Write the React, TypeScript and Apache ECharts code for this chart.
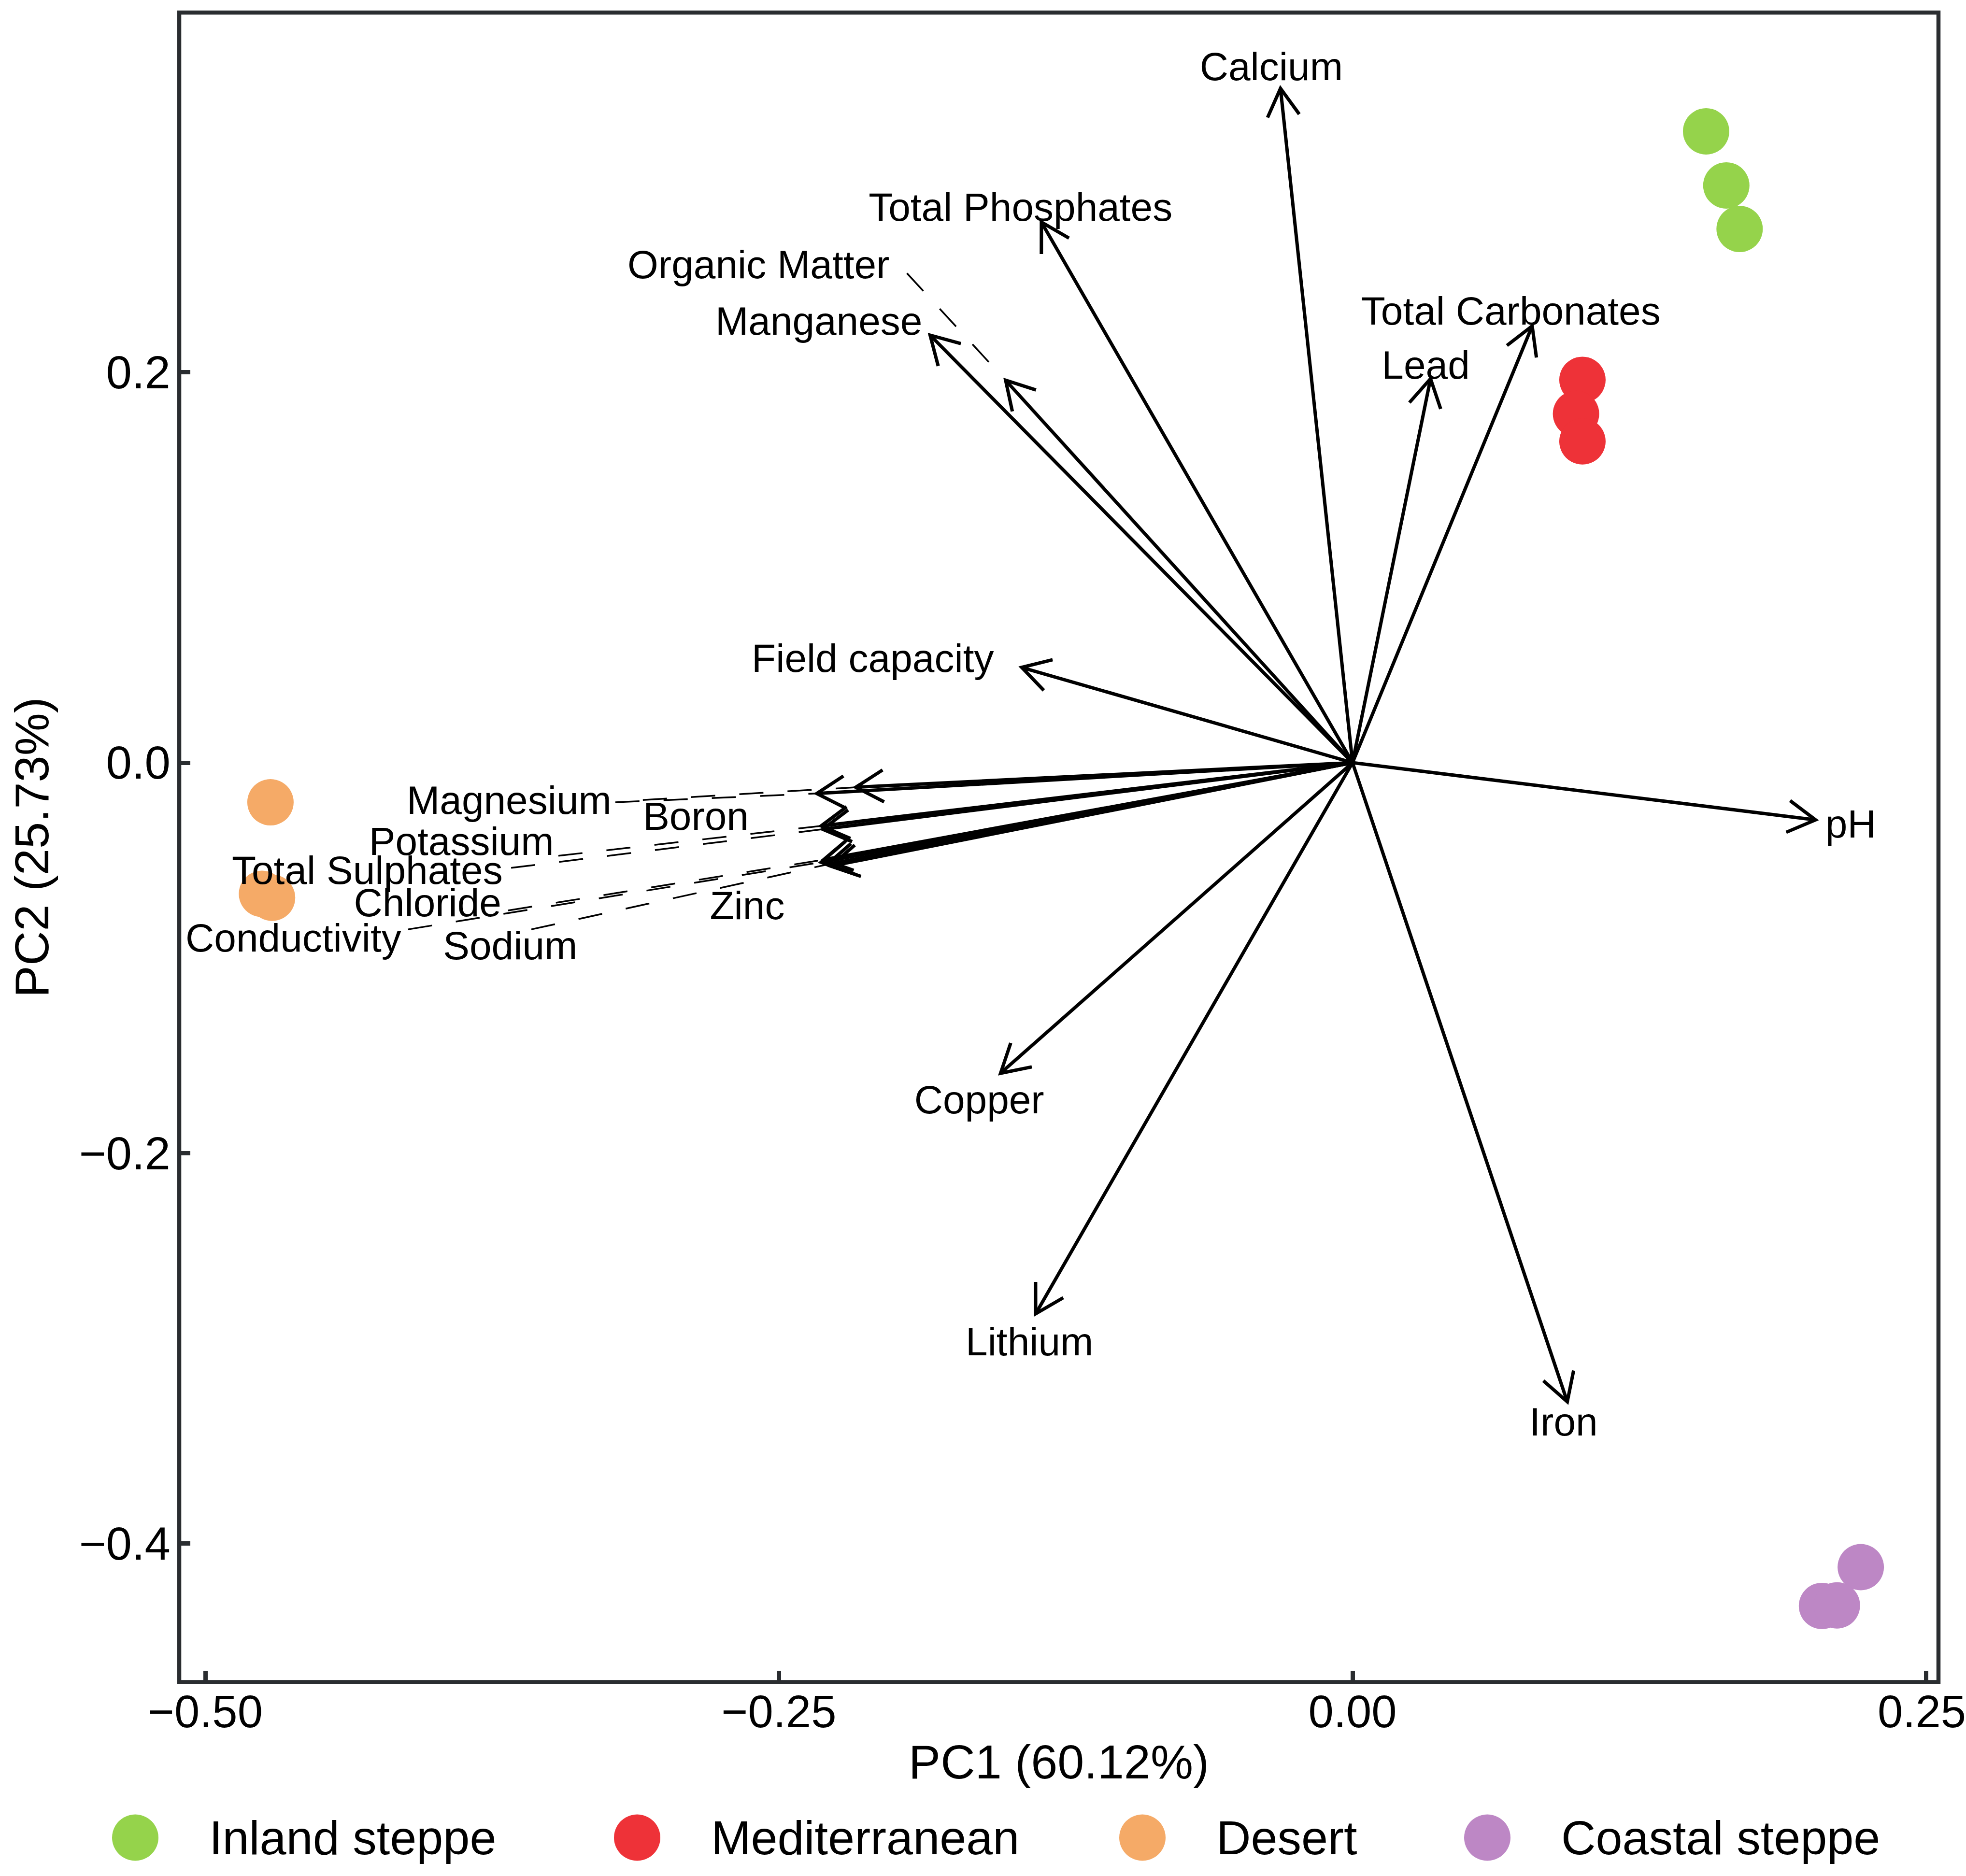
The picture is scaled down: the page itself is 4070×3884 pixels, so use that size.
import React, { useEffect, useRef } from "react";
import * as echarts from "echarts";

const FONT = "'Liberation Sans', Arial, Helvetica, sans-serif";

// Sample scores (PC1, PC2) per group
const groupNames = ["Inland steppe", "Mediterranean", "Desert", "Coastal steppe"];
const groupColors = ["#95d34b", "#ee3238", "#f5aa67", "#bd87c5"];
const inlandSteppe = [[0.1541, 0.3234], [0.1629, 0.2957], [0.1687, 0.2734]];
const mediterranean = [[0.1002, 0.1961], [0.0974, 0.1787], [0.1002, 0.1646]];
const desert = [[-0.4716, -0.0203], [-0.4753, -0.0672], [-0.4709, -0.0692]];
const coastalSteppe = [[0.2215, -0.4121], [0.2046, -0.432], [0.2111, -0.4317]];
const groupData = [inlandSteppe, mediterranean, desert, coastalSteppe];

// Variable loadings (arrow tips)
const variables = [
  "Calcium", "Total Phosphates", "Organic Matter", "Manganese", "Total Carbonates", "Lead",
  "Field capacity", "pH", "Copper", "Lithium", "Iron", "Magnesium", "Boron", "Potassium",
  "Total Sulphates", "Chloride", "Conductivity", "Sodium", "Zinc",
];
const loadingPC1 = [
  -0.0314, -0.1356, -0.1512, -0.1841, 0.0783, 0.034,
  -0.1442, 0.2018, -0.1534, -0.1381, 0.0936, -0.2335, -0.2165, -0.2316,
  -0.2309, -0.2305, -0.2316, -0.2291, -0.2274,
];
const loadingPC2 = [
  0.3454, 0.2769, 0.1959, 0.219, 0.2237, 0.1967,
  0.0488, -0.0293, -0.1591, -0.2823, -0.3274, -0.0158, -0.0126, -0.0324,
  -0.0341, -0.0497, -0.051, -0.0522, -0.053,
];
// Repelled label positions (data units)
const labelPC1 = [
  -0.0354, -0.1447, -0.2589, -0.2326, 0.069, 0.0319,
  -0.2091, 0.2171, -0.1627, -0.1408, 0.092, -0.3676, -0.2862, -0.3884,
  -0.4294, -0.4031, -0.4616, -0.3671, -0.2638,
];
const labelPC2 = [
  0.3567, 0.2847, 0.2552, 0.2263, 0.2314, 0.2038,
  0.0535, -0.0313, -0.1726, -0.2965, -0.3376, -0.0191, -0.0274, -0.0403,
  -0.055, -0.0717, -0.0897, -0.0936, -0.073,
];
// Leader segment starts (data units), null = no leader
const segmentPC1: (number | null)[] = [
  null, null, -0.1942, null, null, null,
  null, null, null, null, null, -0.3213, -0.3093, -0.3461,
  -0.3667, -0.368, -0.4116, -0.3579, null,
];
const segmentPC2: (number | null)[] = [
  null, null, 0.2507, null, null, null,
  null, null, null, null, null, -0.0203, -0.0191, -0.0477,
  -0.0539, -0.0757, -0.0854, -0.0854, null,
];

const xTicks = [-0.5, -0.25, 0, 0.25];
const yTicks = [-0.4, -0.2, 0, 0.2];

const fmt = (v: number, d: number) => {
  const s = Math.abs(v).toFixed(d);
  return v < -1e-9 ? "\u2212" + s : s;
};

const FRAME = "#2a2d30";

export default function App() {
  const ref = useRef<HTMLDivElement>(null);
  useEffect(() => {
    if (!ref.current) return;
    const chart = echarts.init(ref.current, null, { renderer: "svg" });
    const legendLeft = [232, 1271, 2317, 3031];
    const option: any = {
      animation: false,
      backgroundColor: "#ffffff",
      grid: {
        left: 371, right: 57, top: 26, bottom: 401.5,
        containLabel: false,
        outerBoundsMode: "none",
        show: true, borderColor: FRAME, borderWidth: 8.5, backgroundColor: "transparent",
      },
      xAxis: {
        type: "value",
        min: -0.51137, max: 0.25537,
        name: "PC1 (60.12%)",
        nameLocation: "middle",
        nameGap: 115,
        nameTextStyle: { fontSize: 99, color: "#000", fontFamily: FONT },
        axisLine: { show: false, onZero: false },
        splitLine: { show: false },
        axisTick: { show: true, inside: true, length: 23, customValues: xTicks, lineStyle: { color: FRAME, width: 9 } },
        axisLabel: {
          customValues: xTicks, margin: 14, fontSize: 94, color: "#000", fontFamily: FONT,
          formatter: (v: number) => (v > 0.2 ? "{edge|" + fmt(v, 2) + "}" : fmt(v, 2)),
          rich: {
            edge: { fontSize: 94, color: "#000", fontFamily: FONT, padding: [0, 18, 0, 0] },
          },
        },
      },
      yAxis: {
        type: "value",
        min: -0.47099, max: 0.38426,
        name: "PC2 (25.73%)",
        nameLocation: "middle",
        nameRotate: 90,
        nameGap: 256,
        nameTextStyle: { fontSize: 99, color: "#000", fontFamily: FONT },
        axisLine: { show: false, onZero: false },
        splitLine: { show: false },
        axisTick: { show: true, inside: true, length: 23, customValues: yTicks, lineStyle: { color: FRAME, width: 9 } },
        axisLabel: {
          customValues: yTicks, margin: 18, fontSize: 96, color: "#000", fontFamily: FONT,
          formatter: (v: number) => fmt(v, 1),
        },
      },
      legend: groupNames.map((name, i) => ({
        data: [name],
        left: legendLeft[i],
        top: 3755,
        padding: 0,
        orient: "horizontal",
        itemWidth: 96,
        itemHeight: 96,
        icon: "circle",
        selectedMode: false,
        textStyle: { fontSize: 99, color: "#000", fontFamily: FONT, padding: [0, 0, 0, 100] },
      })),
      series: [
        ...groupNames.map((name, i) => ({
          type: "scatter",
          name,
          data: groupData[i],
          symbol: "circle",
          symbolSize: 96,
          itemStyle: { color: groupColors[i], opacity: 1 },
          z: 2,
        })),
        {
          type: "custom",
          name: "loadings",
          coordinateSystem: "cartesian2d",
          data: variables.map((_, i) => [loadingPC1[i], loadingPC2[i]]),
          encode: { x: 0, y: 1 },
          z: 5,
          clip: false,
          renderItem: (params: any, api: any) => {
            const i = params.dataIndex;
            const o = api.coord([0, 0]);
            const t = api.coord([api.value(0), api.value(1)]);
            const dx = t[0] - o[0];
            const dy = t[1] - o[1];
            const len = Math.sqrt(dx * dx + dy * dy) || 1;
            const ux = -dx / len;
            const uy = -dy / len;
            const L = 66;
            const a = Math.PI / 6;
            const rot = (ang: number) => [
              t[0] + L * (ux * Math.cos(ang) - uy * Math.sin(ang)),
              t[1] + L * (ux * Math.sin(ang) + uy * Math.cos(ang)),
            ];
            const arm1 = rot(a);
            const arm2 = rot(-a);
            const children: any[] = [];
            const sx = segmentPC1[i];
            const sy = segmentPC2[i];
            if (sx !== null && sy !== null) {
              const s = api.coord([sx, sy]);
              children.push({
                type: "line",
                shape: { x1: s[0], y1: s[1], x2: t[0], y2: t[1] },
                style: { stroke: "#000", lineWidth: 3.5, lineDash: [50, 50], fill: null },
              });
            }
            children.push({
              type: "line",
              shape: { x1: o[0], y1: o[1], x2: t[0], y2: t[1] },
              style: { stroke: "#000", lineWidth: 7, fill: null },
            });
            children.push({
              type: "polyline",
              shape: { points: [arm1, t, arm2] },
              style: { stroke: "#000", lineWidth: 7, fill: null, lineJoin: "miter" },
            });
            const lp = api.coord([labelPC1[i], labelPC2[i]]);
            children.push({
              type: "text",
              x: lp[0],
              y: lp[1],
              style: {
                text: variables[i],
                fill: "#000",
                fontSize: 82,
                fontFamily: FONT,
                align: "center",
                verticalAlign: "middle",
              },
            });
            return { type: "group", children };
          },
        },
      ],
    };
    chart.setOption(option);
    return () => chart.dispose();
  }, []);
  return (
    <div
      ref={ref}
      style={{ position: "absolute", left: 0, top: 0, width: 4070, height: 3884, background: "#fff" }}
    />
  );
}
